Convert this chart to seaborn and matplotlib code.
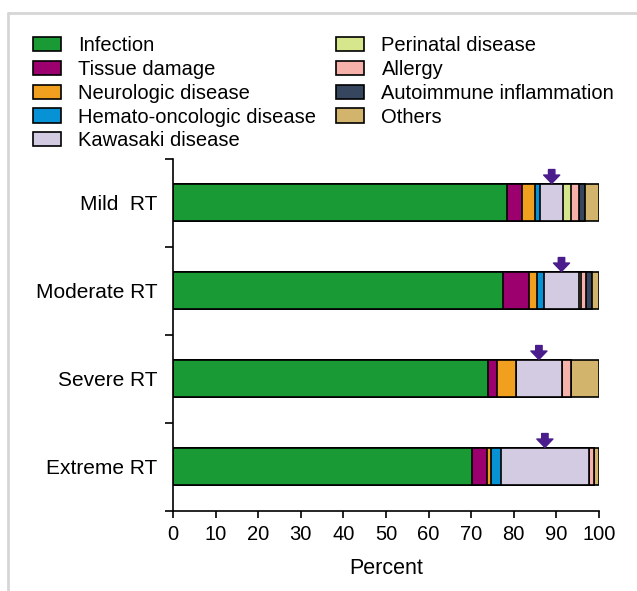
import numpy as np
import pandas as pd
import matplotlib
matplotlib.use("Agg")
import matplotlib.pyplot as plt
from matplotlib.lines import Line2D
from matplotlib.patches import Patch
import seaborn as sns

# -----------------------------------------------------------------------------
# Data (percent of cases per severity group)
# -----------------------------------------------------------------------------
severity = ["Mild  RT", "Moderate RT", "Severe RT", "Extreme RT"]
causes = ["Infection", "Tissue damage", "Neurologic disease",
          "Hemato-oncologic disease", "Kawasaki disease", "Perinatal disease",
          "Allergy", "Autoimmune inflammation", "Others"]

infection = [78.4, 77.4, 73.9, 70.1]
tissue = [3.5, 6.2, 2.1, 3.5]
neuro = [3.1, 1.8, 4.5, 1.1]
hemato = [1.2, 1.8, 0.0, 2.2]
kawasaki = [5.4, 8.0, 10.8, 20.8]
perinatal = [1.8, 0.5, 0.0, 0.0]
allergy = [2.0, 1.2, 2.1, 1.1]
autoimmune = [1.4, 1.5, 0.0, 0.0]
others = [3.2, 1.6, 6.6, 1.2]

colors = ["#1a9a35", "#9c006e", "#f0a01e", "#0792d6", "#d3cbe2",
          "#d5e68c", "#f5b1aa", "#36465e", "#d2b46c"]
arrow_color = "#4a1c8c"

# -----------------------------------------------------------------------------
# Prepare cumulative table
# -----------------------------------------------------------------------------
df = pd.DataFrame(dict(zip(causes, [infection, tissue, neuro, hemato, kawasaki,
                                    perinatal, allergy, autoimmune, others])))
df["severity"] = severity
cum = df[causes].cumsum(axis=1)
cum["severity"] = severity

# -----------------------------------------------------------------------------
# Plot
# -----------------------------------------------------------------------------
sns.set_theme(style="ticks")
plt.rcParams["font.family"] = ["Liberation Sans", "DejaVu Sans"]
plt.rcParams["text.color"] = "black"
plt.rcParams["xtick.color"] = "black"
plt.rcParams["ytick.color"] = "black"
plt.rcParams["axes.labelcolor"] = "black"

fig = plt.figure(figsize=(6.37, 5.91), dpi=100)
ax = fig.add_axes([0.2716, 0.1354, 0.6687, 0.5956])

# draw cumulative bars from last to first so each segment shows
for cause, col in reversed(list(zip(causes, colors))):
    sns.barplot(x=cause, y="severity", data=cum, color=col, orient="h",
                width=0.42, edgecolor="black", linewidth=1.2, ax=ax,
                saturation=1)

# arrows above the Kawasaki segments
kaw_mid = (cum["Hemato-oncologic disease"] + cum["Kawasaki disease"]) / 2
for i, xm in enumerate(kaw_mid):
    ax.annotate("", xy=(xm, i - 0.222), xytext=(xm, i - 0.38),
                arrowprops=dict(arrowstyle="simple,head_length=0.55,head_width=1.05,tail_width=0.42",
                                color=arrow_color, shrinkA=0, shrinkB=0,
                                mutation_scale=11))

ax.set_xlim(0, 100)
ax.set_ylim(3.5, -0.5)
ax.set_xticks(np.arange(0, 101, 10))
ax.set_yticks(np.arange(-0.5, 4, 1))
ax.set_yticklabels([])
ax.set_yticks(range(4), minor=True)
ax.set_yticklabels(severity, minor=True)
ax.tick_params(axis="y", which="minor", length=0, pad=11, labelsize=15)
ax.tick_params(axis="y", which="major", length=6, width=1.2)
ax.tick_params(axis="x", length=5, width=1.2, labelsize=14.5, pad=5)
ax.set_xlabel("Percent", fontsize=15.5, labelpad=10)
ax.set_ylabel("")
for s in ["top", "right"]:
    ax.spines[s].set_visible(False)
for s in ["left", "bottom"]:
    ax.spines[s].set_color("black")
    ax.spines[s].set_linewidth(1.2)

# legend
handles = [Patch(facecolor=c, edgecolor="black", linewidth=1.2) for c in colors]
fig.legend(handles, causes, loc="upper left", bbox_to_anchor=(0.052, 0.939),
           ncol=2, frameon=False, fontsize=14.5, handlelength=1.39,
           handleheight=0.7, handletextpad=0.85, labelspacing=0.24,
           columnspacing=1.0, borderaxespad=0, borderpad=0)

# light grey frame at top and left
fig.add_artist(Line2D([0.012, 0.012], [0.0, 0.978], color="#d6d6d6", lw=2,
                      transform=fig.transFigure))
fig.add_artist(Line2D([0.012, 1.0], [0.978, 0.978], color="#d6d6d6", lw=2,
                      transform=fig.transFigure))

plt.savefig("out.png", dpi=100)
